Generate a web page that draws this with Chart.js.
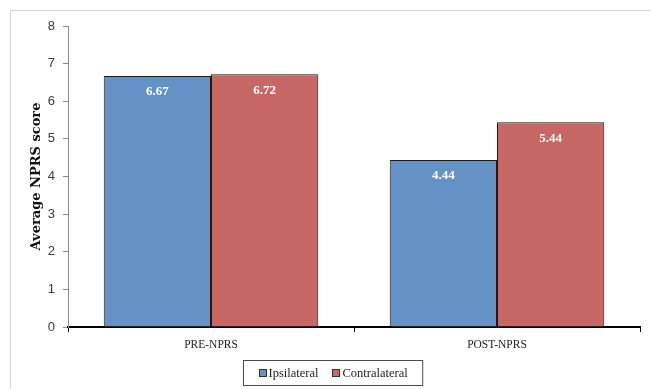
<!DOCTYPE html>
<html>
<head>
<meta charset="utf-8">
<script src="https://cdn.jsdelivr.net/npm/chart.js@4"></script>
<style>
  html, body { margin: 0; padding: 0; background: #fff; }
  #wrap { position: relative; width: 651px; height: 389px; overflow: hidden; }
  #frame { position: absolute; left: 10px; top: 10px; width: 700px; height: 450px;
           border-top: 1px solid #d4d4d4; border-left: 1px solid #d4d4d4; }
  canvas { position: absolute; left: 0; top: 0; }
</style>
</head>
<body>
<div id="wrap">
  <div id="frame"></div>
  <canvas id="c" width="651" height="389"></canvas>
</div>
<script>
// NPRS scores before and after treatment
const categories = ['PRE-NPRS', 'POST-NPRS'];
const ipsilateral = [6.67, 4.44];
const contralateral = [6.72, 5.44];
const yTicks = [0, 1, 2, 3, 4, 5, 6, 7, 8];

const blue = '#6592C6';
const red = '#C86866';
const serif = "'Liberation Serif', 'DejaVu Serif', serif";

// White value labels near the top inside each bar
const valueLabels = {
  id: 'valueLabels',
  afterDatasetsDraw(chart) {
    const ctx = chart.ctx;
    ctx.save();
    ctx.fillStyle = '#ffffff';
    ctx.font = 'bold 13px ' + serif;
    ctx.textAlign = 'center';
    ctx.textBaseline = 'middle';
    chart.data.datasets.forEach((ds, i) => {
      chart.getDatasetMeta(i).data.forEach((bar, j) => {
        ctx.fillText(ds.data[j].toFixed(2), bar.x, bar.y + 16);
      });
    });
    ctx.restore();
  }
};

// Boxed legend below the category labels
const boxLegend = {
  id: 'boxLegend',
  afterDraw(chart) {
    const ctx = chart.ctx;
    ctx.save();
    ctx.font = '12.5px ' + serif;
    ctx.textBaseline = 'middle';
    const sw = 7, gapSw = 3, gapItem = 14, padX = 15;
    const items = chart.data.datasets.map(ds => ({
      label: ds.label, color: ds.backgroundColor, w: ctx.measureText(ds.label).width
    }));
    let inner = 0;
    items.forEach((it, k) => { inner += sw + gapSw + it.w + (k ? gapItem : 0); });
    const boxW = inner + padX * 2, boxH = 25;
    const cx = chart.width / 2 + 7;
    const bx = Math.round(cx - boxW / 2) + 0.5, by = chart.height - 28.5;
    ctx.fillStyle = '#ffffff';
    ctx.fillRect(bx, by, boxW, boxH);
    ctx.strokeStyle = '#4a4a4a';
    ctx.lineWidth = 1;
    ctx.strokeRect(bx, by, boxW, boxH);
    let x = bx + padX;
    const my = by + boxH / 2;
    items.forEach((it, k) => {
      if (k) x += gapItem;
      ctx.fillStyle = it.color;
      ctx.fillRect(Math.round(x) + 0.5, Math.round(my - 4) + 0.5, sw, sw);
      ctx.strokeStyle = '#333';
      ctx.strokeRect(Math.round(x) + 0.5, Math.round(my - 4) + 0.5, sw, sw);
      x += sw + gapSw;
      ctx.fillStyle = '#222';
      ctx.fillText(it.label, x, my + 1);
      x += it.w;
    });
    ctx.restore();
  }
};

new Chart(document.getElementById('c'), {
  type: 'bar',
  data: {
    labels: categories,
    datasets: [
      { label: 'Ipsilateral', data: ipsilateral, backgroundColor: blue,
        borderColor: '#1a1a1a', borderWidth: 1, borderSkipped: 'bottom' },
      { label: 'Contralateral', data: contralateral, backgroundColor: red,
        borderColor: '#1a1a1a', borderWidth: 1, borderSkipped: 'bottom' }
    ]
  },
  options: {
    responsive: false,
    animation: false,
    devicePixelRatio: 1,
    layout: { padding: { left: 0, right: 11, top: 26, bottom: 0 } },
    datasets: { bar: { categoryPercentage: 0.75, barPercentage: 1.0 } },
    plugins: { legend: { display: false }, tooltip: { enabled: false } },
    scales: {
      x: {
        grid: { offset: true, drawOnChartArea: false, drawTicks: true, tickLength: 5, color: '#000' },
        border: { color: '#000', width: 2 },
        ticks: { color: '#222', font: { family: serif, size: 11.5 }, padding: 6 },
        afterFit(scale) { scale.height = 62; }
      },
      y: {
        min: 0, max: 8,
        afterBuildTicks(scale) { scale.ticks = yTicks.map(v => ({ value: v })); },
        grid: { drawOnChartArea: false, drawTicks: true, tickLength: 5, color: '#8a8a8a' },
        border: { color: '#8a8a8a', width: 1 },
        ticks: { color: '#3a3a3a', font: { family: "'Liberation Sans', sans-serif", size: 13 }, padding: 8 },
        title: { display: true, text: 'Average NPRS score', color: '#111',
                 font: { family: "'DejaVu Serif', serif", size: 13, weight: 'bold' }, padding: { top: 29, bottom: 0 } },
        afterFit(scale) { scale.width = 68; }
      }
    }
  },
  plugins: [valueLabels, boxLegend]
});
</script>
</body>
</html>
